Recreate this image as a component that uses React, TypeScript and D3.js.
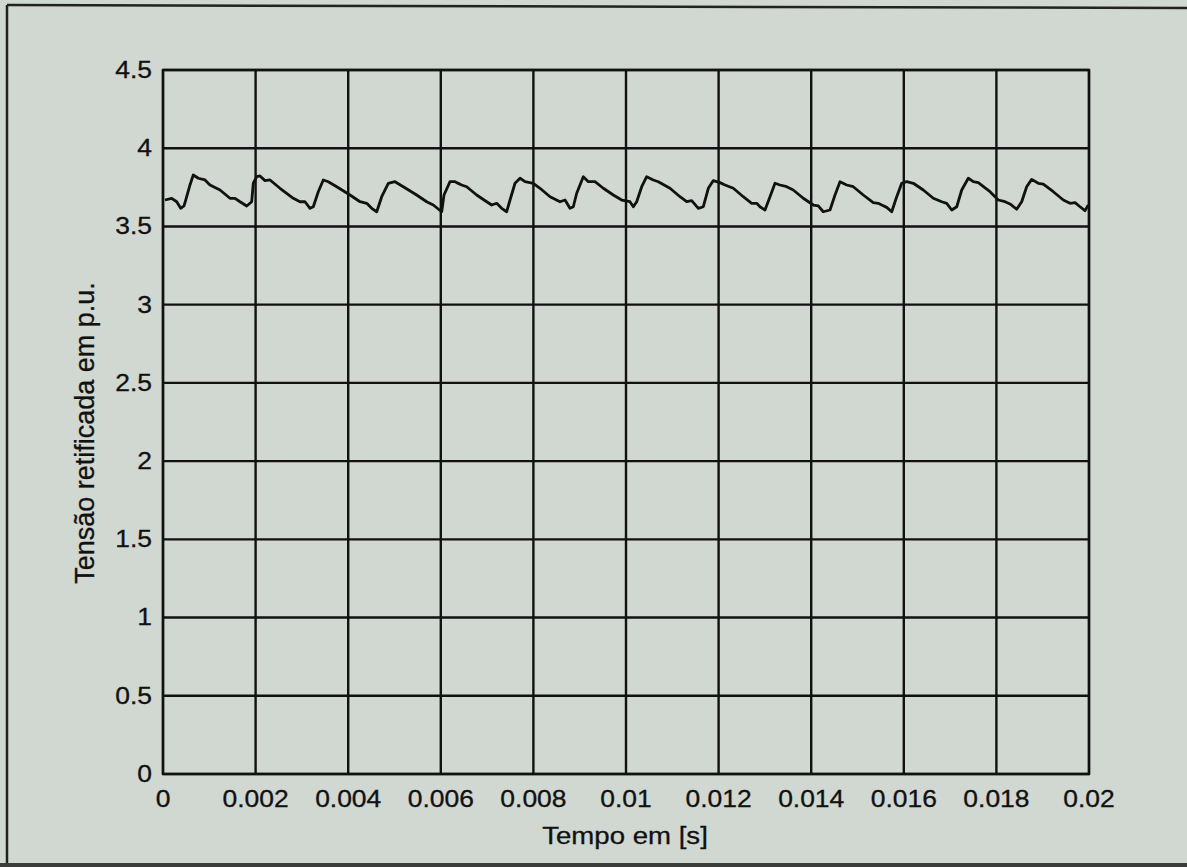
import React from "react";
import * as d3 from "d3";

const WIDTH = 1187;
const HEIGHT = 867;
const PLOT = { left: 163, right: 1089, top: 70, bottom: 774 };

// time in ms
const tempoMs = [
  0.043, 0.188, 0.296, 0.382, 0.454, 0.512, 0.583, 0.654, 0.762, 0.907, 1.015, 1.231, 1.447, 1.555, 1.663,
  1.808, 1.916, 1.95, 2.024, 2.095, 2.203, 2.311, 2.527, 2.814, 2.959, 3.067, 3.175, 3.246, 3.354, 3.462,
  3.57, 3.752, 4.039, 4.255, 4.4, 4.508, 4.616, 4.724, 4.866, 5.011, 5.19, 5.479, 5.695, 5.838, 6.019,
  6.069, 6.199, 6.307, 6.343, 6.451, 6.559, 6.775, 6.991, 7.099, 7.207, 7.315, 7.423, 7.495, 7.603, 7.711,
  7.819, 7.998, 8.143, 8.359, 8.575, 8.683, 8.79, 8.862, 8.935, 9.078, 9.186, 9.33, 9.51, 9.726, 9.907,
  10.086, 10.158, 10.231, 10.339, 10.447, 10.59, 10.698, 10.95, 11.166, 11.311, 11.419, 11.562, 11.67,
  11.778, 11.886, 12.03, 12.138, 12.318, 12.533, 12.715, 12.823, 12.894, 13.002, 13.11, 13.218, 13.326,
  13.471, 13.613, 13.829, 14.045, 14.153, 14.261, 14.406, 14.514, 14.622, 14.767, 14.909, 15.125, 15.341,
  15.449, 15.523, 15.631, 15.739, 15.847, 15.955, 16.063, 16.205, 16.421, 16.637, 16.819, 16.927, 17.035,
  17.143, 17.251, 17.393, 17.501, 17.609, 17.862, 18.041, 18.186, 18.294, 18.438, 18.546, 18.654, 18.762,
  18.905, 19.013, 19.229, 19.445, 19.59, 19.698, 19.806, 19.914, 19.985,
];

// rectified voltage in p.u.
const tensao = [
  3.669, 3.68, 3.658, 3.616, 3.631, 3.69, 3.765, 3.829, 3.808, 3.797, 3.765, 3.733, 3.68, 3.68, 3.658,
  3.631, 3.658, 3.776, 3.818, 3.823, 3.793, 3.797, 3.744, 3.68, 3.658, 3.658, 3.616, 3.626, 3.722, 3.797,
  3.786, 3.754, 3.701, 3.658, 3.648, 3.616, 3.594, 3.69, 3.776, 3.786, 3.754, 3.701, 3.658, 3.637, 3.594,
  3.701, 3.786, 3.786, 3.78, 3.765, 3.754, 3.701, 3.658, 3.637, 3.648, 3.616, 3.594, 3.669, 3.776, 3.808,
  3.786, 3.776, 3.744, 3.69, 3.658, 3.669, 3.616, 3.626, 3.712, 3.818, 3.786, 3.786, 3.744, 3.701, 3.669,
  3.658, 3.626, 3.658, 3.754, 3.818, 3.797, 3.786, 3.744, 3.69, 3.658, 3.665, 3.616, 3.626,
  3.744, 3.793, 3.78, 3.765, 3.744, 3.69, 3.648, 3.648, 3.626, 3.605, 3.69, 3.776, 3.765,
  3.754, 3.733, 3.68, 3.637, 3.631, 3.594, 3.605, 3.701, 3.786, 3.765, 3.754, 3.701, 3.652,
  3.648, 3.637, 3.622, 3.594, 3.69, 3.776, 3.786, 3.776, 3.733, 3.68, 3.658, 3.648, 3.605,
  3.626, 3.733, 3.808, 3.786, 3.78, 3.722, 3.669, 3.658, 3.644, 3.61, 3.658, 3.754, 3.801,
  3.776, 3.771, 3.722, 3.669, 3.648, 3.652, 3.626, 3.601, 3.637,
];

const xTicks = [0, 0.002, 0.004, 0.006, 0.008, 0.01, 0.012, 0.014, 0.016, 0.018, 0.02];
const xTickLabels = ["0", "0.002", "0.004", "0.006", "0.008", "0.01", "0.012", "0.014", "0.016", "0.018", "0.02"];
const yTicks = [0, 0.5, 1, 1.5, 2, 2.5, 3, 3.5, 4, 4.5];
const yTickLabels = ["0", "0.5", "1", "1.5", "2", "2.5", "3", "3.5", "4", "4.5"];

const xLabel = "Tempo em [s]";
const yLabel = "Tensão retificada em p.u.";

const FONT = "'Liberation Sans', Arial, sans-serif";
const INK = "#111";

export default function App() {
  const x = d3.scaleLinear().domain([0, 0.02]).range([PLOT.left, PLOT.right]);
  const y = d3.scaleLinear().domain([0, 4.5]).range([PLOT.bottom, PLOT.top]);

  const points = tempoMs.map((t, i) => [t / 1000, tensao[i]] as [number, number]);
  const line = d3
    .line<[number, number]>()
    .x((d) => x(d[0]))
    .y((d) => y(d[1]))
    .curve(d3.curveLinear);

  return (
    <svg
      width={WIDTH}
      height={HEIGHT}
      style={{ position: "absolute", left: 0, top: 0, background: "#d1d7d1" }}
    >
      {/* page frame of the scanned figure */}
      <line x1={7} y1={5} x2={WIDTH} y2={8} stroke="#222" strokeWidth={2.5} />
      <line x1={7} y1={5} x2={7} y2={866} stroke="#222" strokeWidth={2.5} />
      <rect x={0} y={863} width={WIDTH} height={4} fill="#3a3d3a" />

      {/* grid */}
      {xTicks.map((t) => (
        <line key={"gx" + t} x1={x(t)} x2={x(t)} y1={PLOT.top} y2={PLOT.bottom} stroke={INK} strokeWidth={2.4} />
      ))}
      {yTicks.map((v) => (
        <line key={"gy" + v} x1={PLOT.left} x2={PLOT.right} y1={y(v)} y2={y(v)} stroke={INK} strokeWidth={2.4} />
      ))}
      <rect
        x={PLOT.left}
        y={PLOT.top}
        width={PLOT.right - PLOT.left}
        height={PLOT.bottom - PLOT.top}
        fill="none"
        stroke={INK}
        strokeWidth={2.4}
      />

      {/* waveform */}
      <path d={line(points) || ""} fill="none" stroke={INK} strokeWidth={2.8} strokeLinejoin="round" />

      {/* tick labels */}
      {yTicks.map((v, i) => (
        <text
          key={"ty" + v}
          transform={`translate(152, ${y(v)}) scale(1.15, 1)`}
          textAnchor="end"
          dominantBaseline="central"
          fontFamily={FONT}
          fontSize={23}
          fill={INK}
          stroke={INK}
          strokeWidth={0.3}
        >
          {yTickLabels[i]}
        </text>
      ))}
      {xTicks.map((t, i) => (
        <text
          key={"tx" + t}
          transform={`translate(${x(t)}, 807) scale(1.15, 1)`}
          textAnchor="middle"
          fontFamily={FONT}
          fontSize={23}
          fill={INK}
          stroke={INK}
          strokeWidth={0.3}
        >
          {xTickLabels[i]}
        </text>
      ))}

      {/* axis labels */}
      <text
        transform={`translate(625, 844) scale(1.15, 1)`}
        textAnchor="middle"
        fontFamily={FONT}
        fontSize={24}
        fill={INK}
        stroke={INK}
        strokeWidth={0.3}
      >
        {xLabel}
      </text>
      <text
        transform={`translate(94, 433) rotate(-90)`}
        textAnchor="middle"
        fontFamily={FONT}
        fontSize={27}
        fill={INK}
        stroke={INK}
        strokeWidth={0.3}
      >
        {yLabel}
      </text>
    </svg>
  );
}
